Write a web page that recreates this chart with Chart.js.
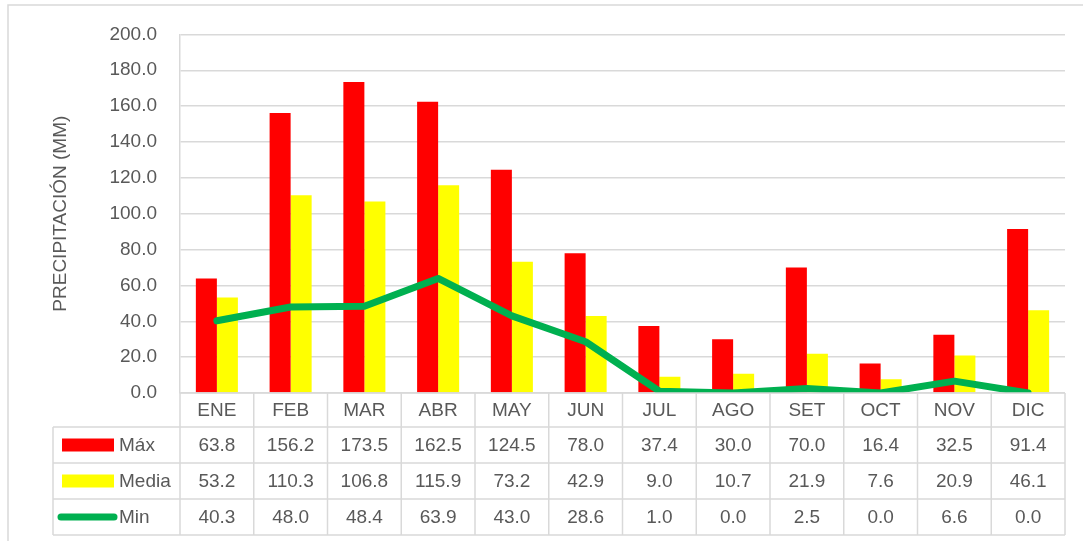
<!DOCTYPE html>
<html>
<head>
<meta charset="utf-8">
<script src="https://cdn.jsdelivr.net/npm/chart.js@4.4.1/dist/chart.umd.min.js"></script>
<style>
  html, body { margin: 0; padding: 0; background: #fff; }
  #wrap { width: 1083px; height: 541px; }
</style>
</head>
<body>
<div id="wrap"><canvas id="chart" width="1083" height="541"></canvas></div>
<script>
const months = ['ENE', 'FEB', 'MAR', 'ABR', 'MAY', 'JUN', 'JUL', 'AGO', 'SET', 'OCT', 'NOV', 'DIC'];
const maxValues = [63.8, 156.2, 173.5, 162.5, 124.5, 78.0, 37.4, 30.0, 70.0, 16.4, 32.5, 91.4];
const mediaValues = [53.2, 110.3, 106.8, 115.9, 73.2, 42.9, 9.0, 10.7, 21.9, 7.6, 20.9, 46.1];
const minValues = [40.3, 48.0, 48.4, 63.9, 43.0, 28.6, 1.0, 0.0, 2.5, 0.0, 6.6, 0.0];

const TEXT = '#595959';
const GRID = '#d9d9d9';
const FONT = "'Liberation Sans', Arial, sans-serif";

// outer frame of the chart object
const framePlugin = {
  id: 'frame',
  beforeDraw(chart) {
    const ctx = chart.ctx;
    ctx.save();
    ctx.fillStyle = '#fff';
    ctx.fillRect(0, 0, chart.width, chart.height);
    ctx.strokeStyle = GRID;
    ctx.lineWidth = 1.5;
    ctx.beginPath();
    ctx.moveTo(8, chart.height);
    ctx.lineTo(8, 5);
    ctx.lineTo(chart.width, 5);
    ctx.stroke();
    ctx.restore();
  },
};

// data table under the plot
const tablePlugin = {
  id: 'dataTable',
  afterDraw(chart) {
    const ctx = chart.ctx;
    const x = chart.scales.x;
    const area = chart.chartArea;
    const colW = (area.right - area.left) / months.length;
    const top = area.bottom;
    const headH = 34, rowH = 36;
    const legendLeft = 53;
    const rows = [
      { label: 'Máx', values: maxValues, key: 'bar', color: '#FF0000' },
      { label: 'Media', values: mediaValues, key: 'bar', color: '#FFFF00' },
      { label: 'Min', values: minValues, key: 'line', color: '#00B050' },
    ];
    const bottom = top + headH + rowH * rows.length;

    ctx.save();
    ctx.strokeStyle = GRID;
    ctx.lineWidth = 1.5;
    ctx.beginPath();
    // horizontal lines
    ctx.moveTo(area.left, top); ctx.lineTo(area.right, top);
    for (let r = 0; r <= rows.length; r++) {
      const y = top + headH + rowH * r;
      ctx.moveTo(legendLeft, y); ctx.lineTo(area.right, y);
    }
    // vertical lines
    ctx.moveTo(legendLeft, top + headH); ctx.lineTo(legendLeft, bottom);
    for (let i = 0; i <= months.length; i++) {
      const xx = area.left + colW * i;
      ctx.moveTo(xx, top); ctx.lineTo(xx, bottom);
    }
    ctx.stroke();

    ctx.fillStyle = TEXT;
    ctx.font = '19px ' + FONT;
    ctx.textAlign = 'center';
    ctx.textBaseline = 'middle';
    months.forEach((m, i) => {
      ctx.fillText(m, x.getPixelForValue(i), top + headH / 2 + 1);
    });
    rows.forEach((row, r) => {
      const cy = top + headH + rowH * r + rowH / 2 + 1;
      row.values.forEach((v, i) => {
        ctx.fillText(v.toFixed(1), x.getPixelForValue(i), cy);
      });
    });

    // legend keys
    ctx.textAlign = 'left';
    rows.forEach((row, r) => {
      const cy = top + headH + rowH * r + rowH / 2;
      if (row.key === 'bar') {
        ctx.fillStyle = row.color;
        ctx.fillRect(62, cy - 6.5, 52, 13);
      } else {
        ctx.strokeStyle = row.color;
        ctx.lineWidth = 7;
        ctx.lineCap = 'round';
        ctx.beginPath();
        ctx.moveTo(61, cy); ctx.lineTo(114, cy);
        ctx.stroke();
      }
      ctx.fillStyle = TEXT;
      ctx.fillText(row.label, 119, cy + 1);
    });
    ctx.restore();
  },
};

new Chart(document.getElementById('chart'), {
  type: 'bar',
  data: {
    labels: months,
    datasets: [
      {
        type: 'line',
        label: 'Min',
        data: minValues,
        borderColor: '#00B050',
        backgroundColor: '#00B050',
        borderWidth: 7,
        borderCapStyle: 'round',
        borderJoinStyle: 'round',
        pointRadius: 0,
        tension: 0,
        order: 0,
      },
      {
        label: 'Máx',
        data: maxValues,
        backgroundColor: '#FF0000',
        categoryPercentage: 0.57,
        barPercentage: 1.0,
        order: 1,
      },
      {
        label: 'Media',
        data: mediaValues,
        backgroundColor: '#FFFF00',
        categoryPercentage: 0.57,
        barPercentage: 1.0,
        order: 1,
      },
    ],
  },
  options: {
    responsive: false,
    animation: false,
    layout: { padding: { top: 34, right: 18, bottom: 148, left: 0 } },
    plugins: {
      legend: { display: false },
      tooltip: { enabled: false },
    },
    scales: {
      x: {
        display: false,
        offset: true,
      },
      y: {
        min: 0,
        max: 200,
        afterFit(scale) { scale.width = 180; },
        ticks: {
          stepSize: 20,
          padding: 23,
          color: TEXT,
          font: { family: FONT, size: 19 },
          callback: v => v.toFixed(1),
        },
        grid: { color: GRID, lineWidth: 1.5, drawTicks: false },
        border: { color: GRID, width: 1.5 },
        title: {
          display: true,
          text: 'PRECIPITACIÓN (MM)',
          color: TEXT,
          font: { family: FONT, size: 19 },
          padding: { top: 49, bottom: 0 },
        },
      },
    },
  },
  plugins: [framePlugin, tablePlugin],
});
</script>
</body>
</html>
